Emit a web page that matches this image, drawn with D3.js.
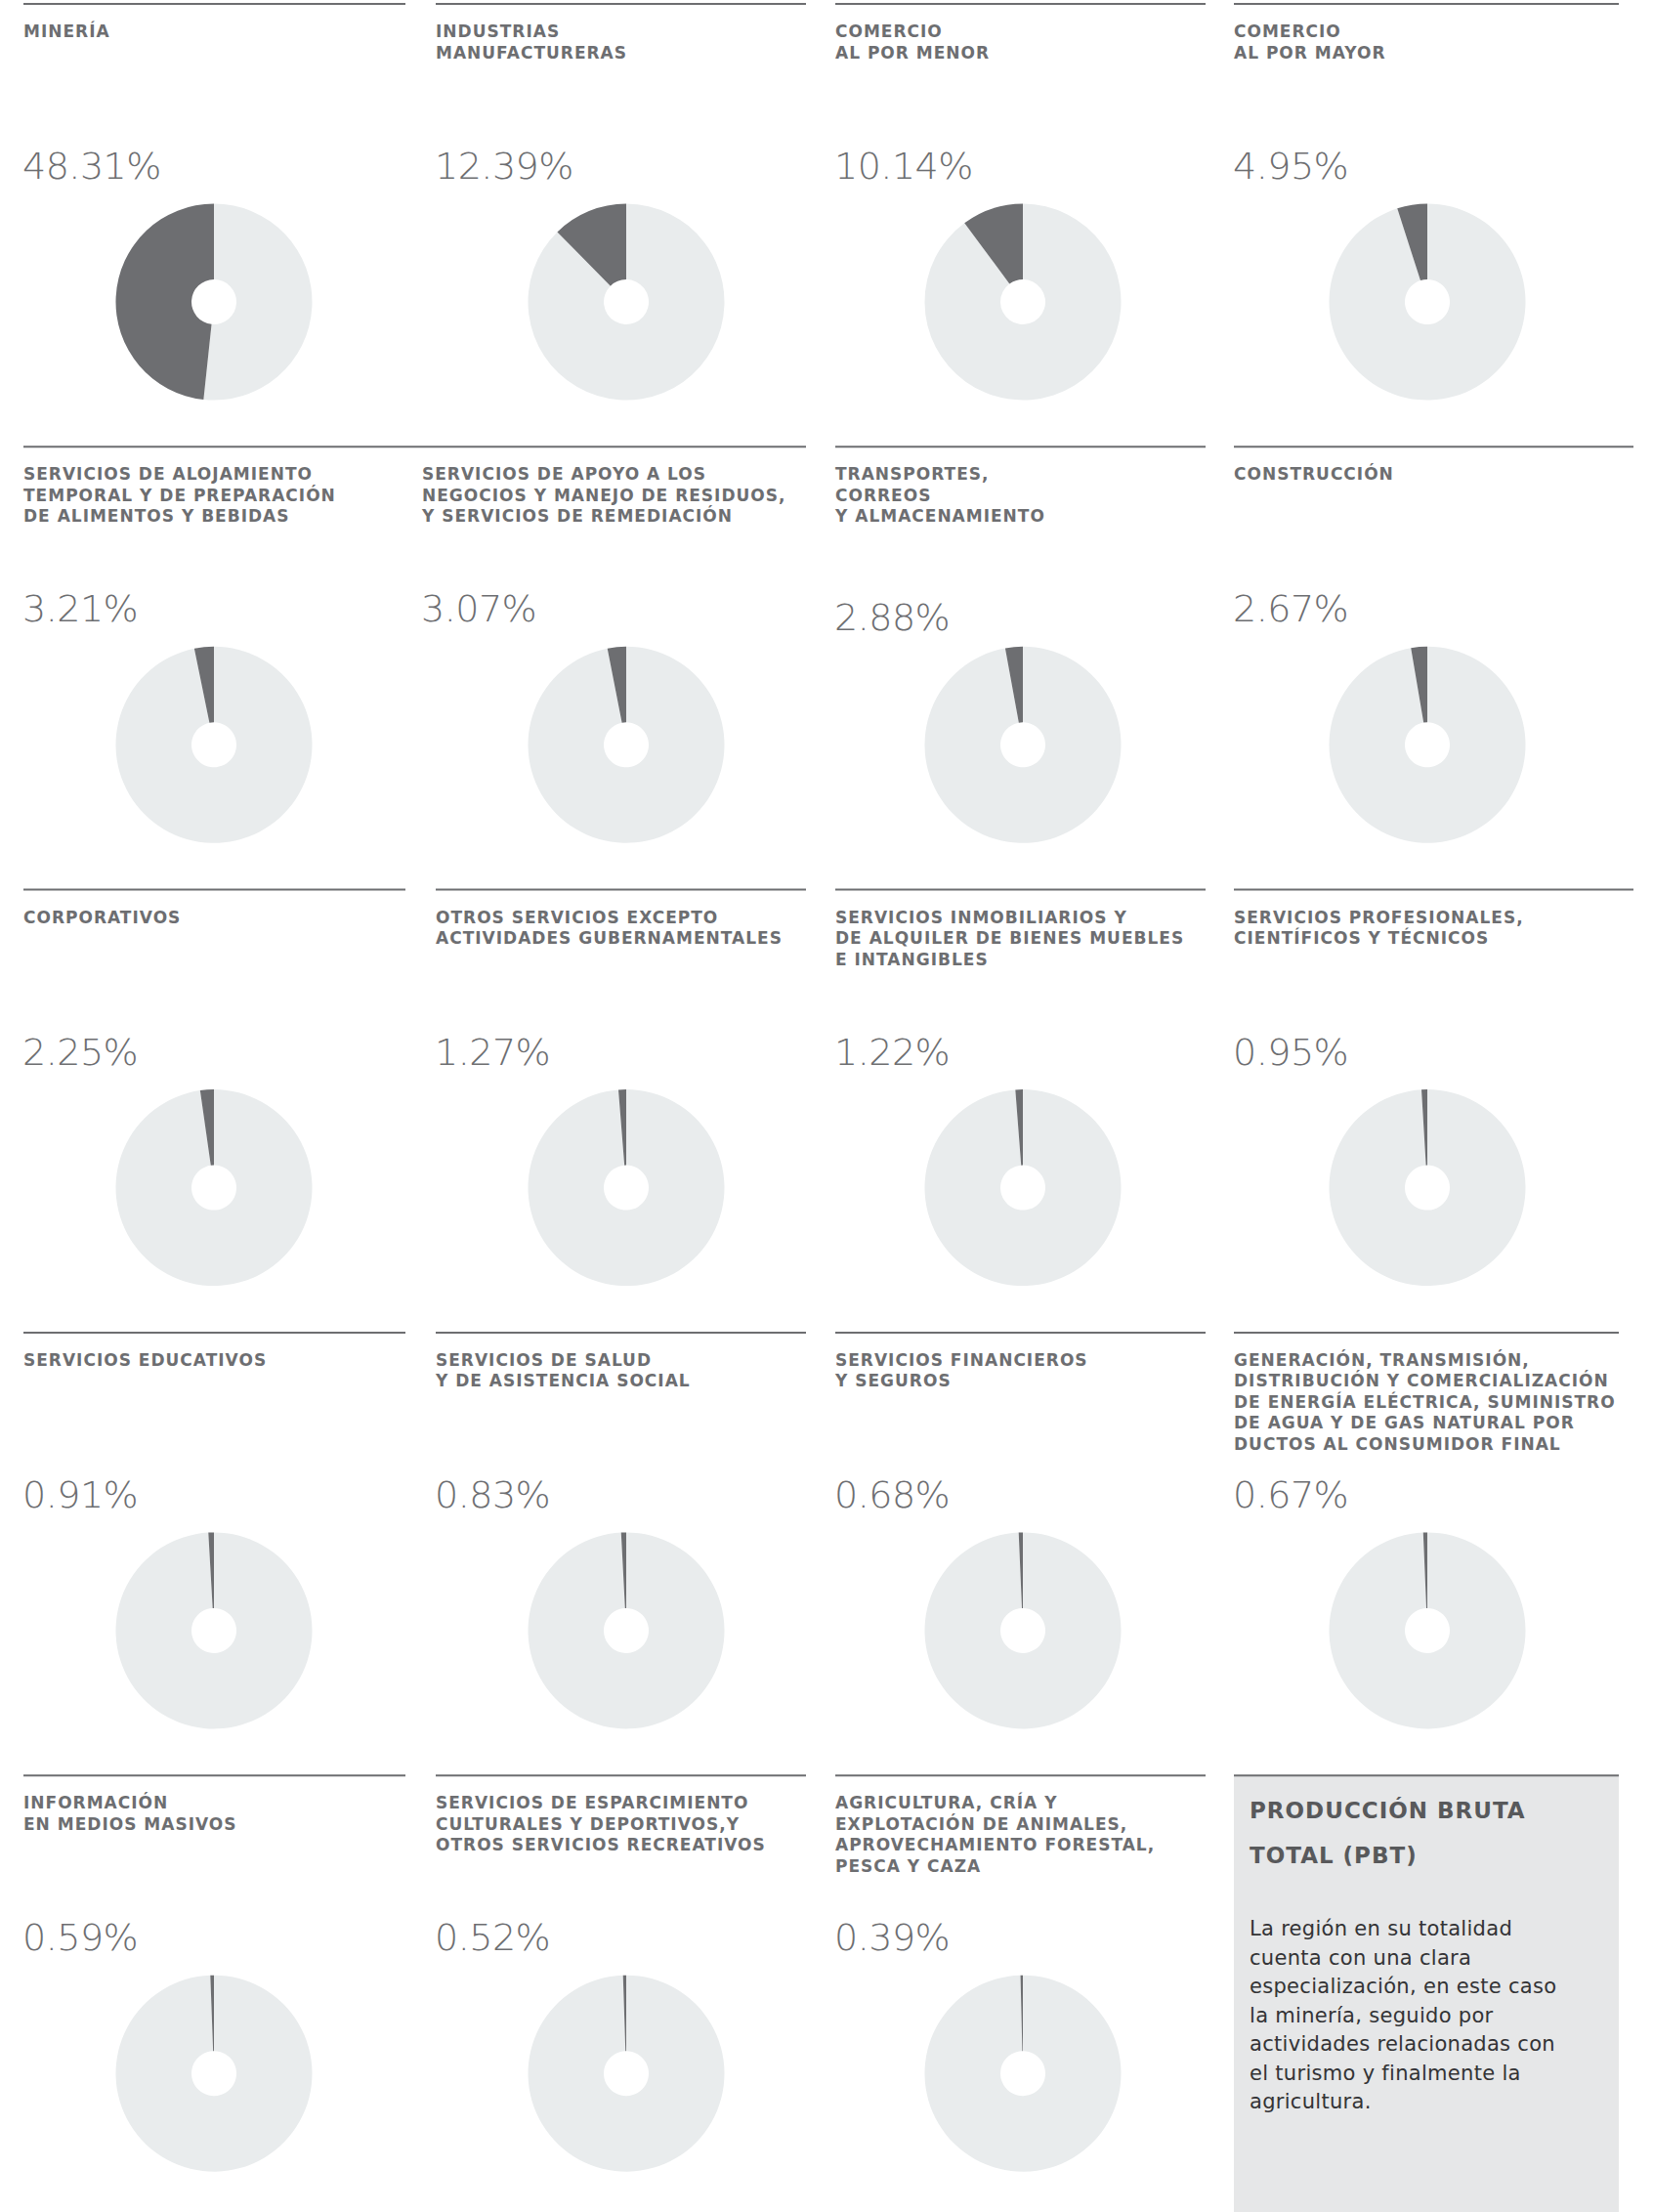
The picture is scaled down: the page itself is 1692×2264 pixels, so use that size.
<!DOCTYPE html>
<html>
<head>
<meta charset="utf-8">
<script src="https://cdn.jsdelivr.net/npm/d3@7"></script>
<style>
  body { margin: 0; background: #fff; }
  svg { display: block; }
</style>
</head>
<body>
<div id="chart"></div>
<script>
// sectors, in reading order (left to right, top to bottom)
const sectors = [
  ['MINERÍA'],
  ['INDUSTRIAS', 'MANUFACTURERAS'],
  ['COMERCIO', 'AL POR MENOR'],
  ['COMERCIO', 'AL POR MAYOR'],
  ['SERVICIOS DE ALOJAMIENTO', 'TEMPORAL Y DE PREPARACIÓN', 'DE ALIMENTOS Y BEBIDAS'],
  ['SERVICIOS DE APOYO A LOS', 'NEGOCIOS Y MANEJO DE RESIDUOS,', 'Y SERVICIOS DE REMEDIACIÓN'],
  ['TRANSPORTES,', 'CORREOS', 'Y ALMACENAMIENTO'],
  ['CONSTRUCCIÓN'],
  ['CORPORATIVOS'],
  ['OTROS SERVICIOS EXCEPTO', 'ACTIVIDADES GUBERNAMENTALES'],
  ['SERVICIOS INMOBILIARIOS Y', 'DE ALQUILER DE BIENES MUEBLES', 'E INTANGIBLES'],
  ['SERVICIOS PROFESIONALES,', 'CIENTÍFICOS Y TÉCNICOS'],
  ['SERVICIOS EDUCATIVOS'],
  ['SERVICIOS DE SALUD', 'Y DE ASISTENCIA SOCIAL'],
  ['SERVICIOS FINANCIEROS', 'Y SEGUROS'],
  ['GENERACIÓN, TRANSMISIÓN,', 'DISTRIBUCIÓN Y COMERCIALIZACIÓN', 'DE ENERGÍA ELÉCTRICA, SUMINISTRO', 'DE AGUA Y DE GAS NATURAL POR', 'DUCTOS AL CONSUMIDOR FINAL'],
  ['INFORMACIÓN', 'EN MEDIOS MASIVOS'],
  ['SERVICIOS DE ESPARCIMIENTO', 'CULTURALES Y DEPORTIVOS,Y', 'OTROS SERVICIOS RECREATIVOS'],
  ['AGRICULTURA, CRÍA Y', 'EXPLOTACIÓN DE ANIMALES,', 'APROVECHAMIENTO FORESTAL,', 'PESCA Y CAZA']
];

// share of gross production (%)
const shares = [48.31, 12.39, 10.14, 4.95, 3.21, 3.07, 2.88, 2.67, 2.25, 1.27, 1.22, 0.95,
                0.91, 0.83, 0.68, 0.67, 0.59, 0.52, 0.39];

const noteTitle = ['PRODUCCIÓN BRUTA', 'TOTAL (PBT)'];
const noteText = [
  'La región en su totalidad',
  'cuenta con una clara',
  'especialización, en este caso',
  'la minería, seguido por',
  'actividades relacionadas con',
  'el turismo y finalmente la',
  'agricultura.'
];

const width = 1692;
const height = 2264;

const colText = [24, 446, 855, 1263];
const colPie = [219, 641, 1047, 1461];
const colLineEnd = [415, 825, 1234, 1657];
const rowTop = 4;
const rowStep = 453.3;

const dark = '#6d6e71';
const light = '#e9eced';
const fmt = d3.format('.2f');

const svg = d3.select('#chart')
  .append('svg')
  .attr('width', width)
  .attr('height', height);

svg.append('rect')
  .attr('width', width)
  .attr('height', height)
  .attr('fill', '#fff');

const pie = d3.pie().sort(null).value(d => d);
const arc = d3.arc().innerRadius(23).outerRadius(100.5);

sectors.forEach((title, i) => {
  const col = i % 4;
  const row = Math.floor(i / 4);
  const y0 = rowTop + row * rowStep;
  let x0 = colText[col];
  let lineStart = colText[col];
  let lineEnd = colLineEnd[col];
  // small quirks of the original layout
  if (row === 1 && col === 0) lineEnd = 432;
  if ((row === 1 || row === 2) && col === 3) lineEnd = 1672;
  if (row === 1 && col === 1) { x0 = 432; lineStart = 432; }
  const pctShift = (row === 1 && col === 2) ? 9 : 0;

  const g = svg.append('g');

  g.append('line')
    .attr('x1', lineStart)
    .attr('x2', lineEnd)
    .attr('y1', y0)
    .attr('y2', y0)
    .attr('stroke', dark)
    .attr('stroke-width', 2);

  g.append('text')
    .attr('x', x0)
    .attr('y', y0 + 34)
    .attr('fill', dark)
    .style('font-family', "'DejaVu Sans', sans-serif")
    .style('font-weight', 'bold')
    .style('font-size', '17px')
    .style('letter-spacing', '1px')
    .selectAll('tspan')
    .data(title)
    .enter()
    .append('tspan')
    .attr('x', x0)
    .attr('dy', (d, k) => k === 0 ? 0 : 21.5)
    .text(d => d);

  g.append('text')
    .attr('x', x0 - 1)
    .attr('y', y0 + 179 + pctShift)
    .attr('fill', dark)
    .style('font-family', "'DejaVu Sans', sans-serif")
    .style('font-weight', 200)
    .style('font-size', '38px')
    .style('letter-spacing', '-0.5px')
    .text(fmt(shares[i]) + '%');

  const v = shares[i];
  g.append('g')
    .attr('transform', 'translate(' + colPie[col] + ',' + (y0 + 305) + ')')
    .selectAll('path')
    .data(pie([100 - v, v]))
    .enter()
    .append('path')
    .attr('d', arc)
    .attr('fill', (d, k) => k === 0 ? light : dark);
});

// note box in the last cell
const boxTop = rowTop + 4 * rowStep;
const note = svg.append('g');

note.append('rect')
  .attr('x', colText[3])
  .attr('y', boxTop)
  .attr('width', colLineEnd[3] - colText[3])
  .attr('height', height - boxTop)
  .attr('fill', '#e6e7e8');

note.append('line')
  .attr('x1', colText[3])
  .attr('x2', colLineEnd[3])
  .attr('y1', boxTop)
  .attr('y2', boxTop)
  .attr('stroke', dark)
  .attr('stroke-width', 2);

note.append('text')
  .attr('x', 1279)
  .attr('y', boxTop + 44)
  .attr('fill', '#58595b')
  .style('font-family', "'DejaVu Sans', sans-serif")
  .style('font-weight', 'bold')
  .style('font-size', '23px')
  .style('letter-spacing', '1px')
  .selectAll('tspan')
  .data(noteTitle)
  .enter()
  .append('tspan')
  .attr('x', 1279)
  .attr('dy', (d, k) => k === 0 ? 0 : 46)
  .text(d => d);

note.append('text')
  .attr('x', 1279)
  .attr('y', boxTop + 164)
  .attr('fill', '#333335')
  .style('font-family', "'DejaVu Sans', sans-serif")
  .style('font-size', '21px')
  .style('letter-spacing', '0.3px')
  .selectAll('tspan')
  .data(noteText)
  .enter()
  .append('tspan')
  .attr('x', 1279)
  .attr('dy', (d, k) => k === 0 ? 0 : 29.5)
  .text(d => d);
</script>
</body>
</html>
